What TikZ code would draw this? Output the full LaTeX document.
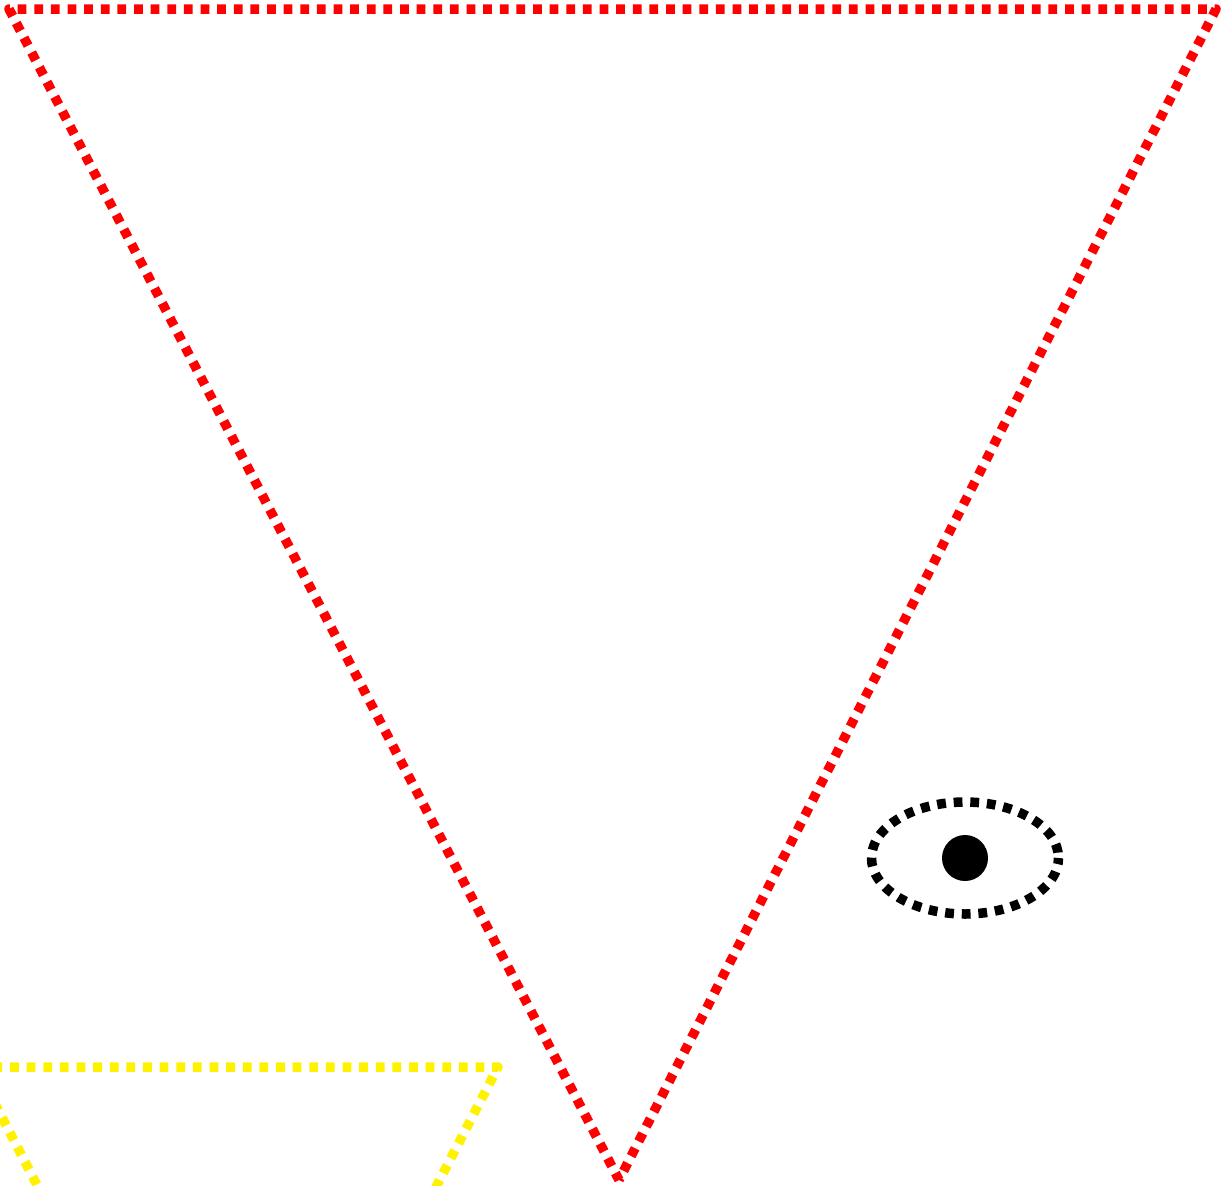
\documentclass[tikz,border=0pt]{standalone}
\usetikzlibrary{shapes.geometric}
\tikzset{
  every picture/.style={x=1pt, y=-1pt},
  dotline/.style={draw=#1, line width=9.5pt, line join=round, dash pattern=on 8.8pt off 7.825pt},
  dotline/.default=black,
}

\begin{document}
\begin{tikzpicture}
  \useasboundingbox (0,0) rectangle (1229,1186);
  \clip (0,0) rectangle (1229,1186);
  % large triangle
  \coordinate (redleft) at (9,9);
  \coordinate (redright) at (1216,9);
  \coordinate (redtip) at (619,1180);
  \draw[dotline=red, dash phase=1pt] (redtip) -- (redleft) -- (redright) -- cycle;
  % small triangle, cut off by the page
  \coordinate (yellowleft) at (-24,1067);
  \coordinate (yellowright) at (498,1067);
  \coordinate (yellowtip) at (237,1572);
  \draw[dotline=yellow, dash phase=12.6pt] (yellowtip) -- (yellowleft) -- (yellowright) -- cycle;
  % eye
  \node (eye) [ellipse, dotline, dash phase=11.2pt, minimum width=187pt, minimum height=112pt, inner sep=0pt] at (965,858) {};
  \fill (eye.center) circle (23pt);
\end{tikzpicture}
\end{document}
